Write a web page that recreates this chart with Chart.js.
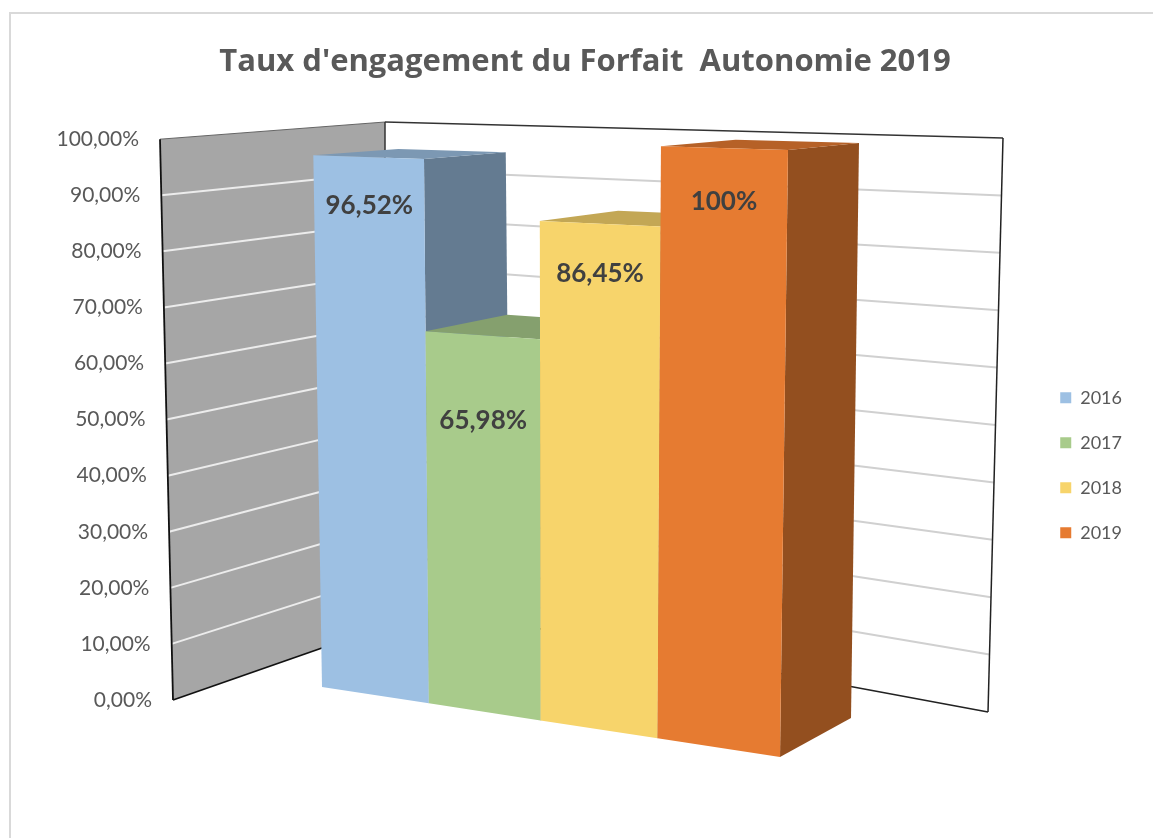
<!DOCTYPE html>
<html>
<head>
<meta charset="utf-8">
<script src="https://cdn.jsdelivr.net/npm/chart.js@4.4.1/dist/chart.umd.min.js"></script>
<style>
  html, body { margin: 0; padding: 0; background: #fff; }
</style>
</head>
<body>
<canvas id="chart" width="1153" height="838"></canvas>
<script>
const years = ["2016", "2017", "2018", "2019"];
const rates = [96.52, 65.98, 86.45, 100];
const yTicks = [0, 10, 20, 30, 40, 50, 60, 70, 80, 90, 100];
const colors = ["#9dc0e3", "#a8cb8b", "#f7d46b", "#e67b31"];

const lerp = (a, b, t) => a + (b - a) * t;

// perspective frame of the 3D plot (screen space)
const view = {
  frontTopL: [313, 136], frontBotL: [322, 687],
  frontTopR: [788, 150], frontBotR: [780, 757],
  depthX: [85, 71], depthTopY: [-5, -7], depthDrop: -32,
  squeeze: 0.913,
  wallOuter: [173, 160], wallCorner: 385, cornerY: [626, 122],
  backLeftY: [600, 122], backRightX: [988, 1003], backRightY: [712, 138]
};

const ease = (u) => u * view.squeeze / (1 + (view.squeeze - 1) * u);

function front(s, v) {
  const t = v / 100;
  const xb = lerp(view.frontBotL[0], view.frontBotR[0], s);
  const yb = lerp(view.frontBotL[1], view.frontBotR[1], s);
  const xt = lerp(view.frontTopL[0], view.frontTopR[0], s);
  const yt = lerp(view.frontTopL[1], view.frontTopR[1], s);
  return [lerp(xb, xt, t), lerp(yb, yt, t)];
}

function back(s, v) {
  const p = front(s, v);
  return [
    p[0] + lerp(view.depthX[0], view.depthX[1], s),
    p[1] + lerp(view.depthTopY[0], view.depthTopY[1], s) + view.depthDrop * (1 - v / 100)
  ];
}

function shade(hex, k) {
  const n = parseInt(hex.slice(1), 16);
  const r = Math.round(((n >> 16) & 255) * k);
  const g = Math.round(((n >> 8) & 255) * k);
  const b = Math.round((n & 255) * k);
  return `rgb(${r},${g},${b})`;
}

function poly(ctx, pts, fill, stroke, width) {
  ctx.beginPath();
  ctx.moveTo(pts[0][0], pts[0][1]);
  for (let i = 1; i < pts.length; i++) ctx.lineTo(pts[i][0], pts[i][1]);
  ctx.closePath();
  if (fill) { ctx.fillStyle = fill; ctx.fill(); }
  if (stroke) { ctx.strokeStyle = stroke; ctx.lineWidth = width; ctx.stroke(); }
}

function line(ctx, a, b, color, width) {
  ctx.beginPath();
  ctx.moveTo(a[0], a[1]);
  ctx.lineTo(b[0], b[1]);
  ctx.strokeStyle = color;
  ctx.lineWidth = width;
  ctx.stroke();
}

const formatRate = (v) => Number.isInteger(v) ? v + "%" : v.toFixed(2).replace(".", ",") + "%";
const formatTick = (v) => v.toFixed(2).replace(".", ",") + "%";

const bars3d = {
  id: "bars3d",
  beforeDraw(chart) {
    const ctx = chart.ctx;
    const yScale = chart.scales.y;
    ctx.save();
    ctx.fillStyle = "#fff";
    ctx.fillRect(0, 0, chart.width, chart.height);

    // outer frame
    ctx.strokeStyle = "#d9d9d9";
    ctx.lineWidth = 2;
    ctx.beginPath();
    ctx.moveTo(10, chart.height);
    ctx.lineTo(10, 13);
    ctx.lineTo(chart.width, 13);
    ctx.stroke();

    const outer = (v) => [lerp(view.wallOuter[0], view.wallOuter[1], v / 100), yScale.getPixelForValue(v)];
    const corner = (v) => [view.wallCorner, lerp(view.cornerY[0], view.cornerY[1], v / 100)];
    const backL = (v) => [view.wallCorner, lerp(view.backLeftY[0], view.backLeftY[1], v / 100)];
    const backR = (v) => [lerp(view.backRightX[0], view.backRightX[1], v / 100), lerp(view.backRightY[0], view.backRightY[1], v / 100)];
    const top = yTicks[yTicks.length - 1];

    // back wall
    poly(ctx, [backL(0), backL(top), backR(top), backR(0)], "#fff");
    yTicks.slice(1, -1).forEach(v => line(ctx, backL(v), backR(v), "#d0d0d0", 2));
    line(ctx, backL(top), backR(top), "#333", 1.5);
    line(ctx, backR(top), backR(0), "#222", 1.5);
    line(ctx, backR(0), backL(0), "#222", 1.5);

    // side wall
    poly(ctx, [outer(0), outer(top), corner(top), corner(0)], "#a6a6a6");
    yTicks.slice(1, -1).forEach(v => line(ctx, outer(v), corner(v), "#ececec", 2));
    line(ctx, outer(top), corner(top), "#666", 1);
    line(ctx, corner(top), corner(0), "#333", 1.5);
    line(ctx, outer(0), outer(top), "#111", 1.8);
    line(ctx, outer(0), corner(0), "#111", 1.8);

    // value axis labels
    ctx.font = "21px Lato";
    ctx.fillStyle = "#595959";
    ctx.textAlign = "right";
    ctx.textBaseline = "middle";
    yTicks.forEach(v => {
      const p = outer(v);
      ctx.fillText(formatTick(v), p[0] - 21, p[1]);
    });
    ctx.restore();
  },
  beforeDatasetsDraw(chart, args, opts) {
    const ctx = chart.ctx;
    const yScale = chart.scales.y;
    const els = chart.data.datasets.map((d, i) => chart.getDatasetMeta(i).data[0]);
    const left = els[0].x - els[0].width / 2;
    const right = els[els.length - 1].x + els[els.length - 1].width / 2;
    const toU = (px) => (px - left) / (right - left);

    ctx.save();
    els.forEach((el, i) => {
      const s0 = ease(toU(el.x - el.width / 2));
      const s1 = ease(toU(el.x + el.width / 2));
      const v = yScale.getValueForPixel(el.y);
      const v0 = yScale.getValueForPixel(el.base);
      const color = chart.data.datasets[i].backgroundColor;

      poly(ctx, [front(s1, v), back(s1, v), back(s1, v0), front(s1, v0)], shade(color, 0.64));
      poly(ctx, [front(s0, v), front(s1, v), back(s1, v), back(s0, v)], shade(color, 0.79));
      poly(ctx, [front(s0, v0), front(s1, v0), front(s1, v), front(s0, v)], color);
    });

    // value labels on the front faces
    ctx.font = "bold 26px Lato";
    ctx.fillStyle = "#404040";
    ctx.textAlign = "center";
    ctx.textBaseline = "middle";
    els.forEach((el, i) => {
      const s0 = ease(toU(el.x - el.width / 2));
      const s1 = ease(toU(el.x + el.width / 2));
      const v = yScale.getValueForPixel(el.y);
      const lv = v - opts.labelInset[i];
      const a = front(s0, lv), b = front(s1, lv);
      ctx.fillText(formatRate(rates[i]), (a[0] + b[0]) / 2, (a[1] + b[1]) / 2);
    });
    ctx.restore();
    return false;
  }
};

new Chart(document.getElementById("chart"), {
  type: "bar",
  data: {
    labels: [""],
    datasets: years.map((y, i) => ({
      label: y,
      data: [rates[i]],
      backgroundColor: colors[i],
      borderColor: colors[i],
      borderWidth: 0
    }))
  },
  options: {
    responsive: false,
    animation: false,
    events: [],
    categoryPercentage: 1,
    barPercentage: 1,
    layout: { padding: { left: 38, right: 21, top: 0, bottom: 138 } },
    scales: {
      x: { display: false },
      y: { display: false, min: 0, max: 100 }
    },
    plugins: {
      title: {
        display: true,
        text: "Taux d'engagement du Forfait  Autonomie 2019",
        color: "#595959",
        font: { family: "Open Sans", size: 31, weight: "bold" },
        padding: { top: 44, bottom: 58 }
      },
      legend: {
        position: "right",
        title: { display: true, text: "", font: { size: 12 }, padding: { top: 108, bottom: 108 } },
        labels: {
          boxWidth: 11,
          boxHeight: 11,
          padding: 27,
          color: "#595959",
          font: { family: "Lato", size: 18 }
        }
      },
      tooltip: { enabled: false },
      bars3d: { labelInset: [8.7, 14.9, 8.5, 9] }
    }
  },
  plugins: [bars3d]
});
</script>
</body>
</html>
